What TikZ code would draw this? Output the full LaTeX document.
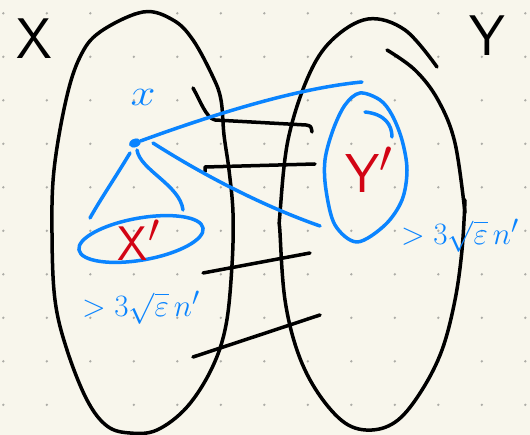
\documentclass[tikz,border=0pt]{standalone}
\usetikzlibrary{shapes.geometric}
\definecolor{paper}{RGB}{248,246,236}
\definecolor{inkblue}{RGB}{10,132,255}
\definecolor{inkred}{RGB}{210,4,20}
\definecolor{dotgray}{RGB}{172,172,166}
\begin{document}
\begin{tikzpicture}[x=1pt,y=-1pt, line cap=round, line join=round,
  ink/.style={line width=3.5pt, black},
  blueink/.style={line width=3.5pt, inkblue},
  biglab/.style={inner sep=0pt, font=\Huge\sffamily},
  redlab/.style={inner sep=0pt, text=inkred, font=\Huge\sffamily},
  bluelab/.style={inner sep=0pt, text=inkblue, font=\Huge},
  sizelab/.style={inner sep=0pt, text=inkblue, font=\Huge}]
\fill[paper] (0,0) rectangle (530,435);
\useasboundingbox (0,0) rectangle (530,435);
\foreach \i in {0,...,12} \foreach \j in {0,...,9}
  \fill[dotgray] (3.3+43.5*\i, 13.3+43.5*\j) circle (1.3pt);
% set X
\draw[ink] plot[smooth cycle, tension=0.6] coordinates {(143,12) (173,20) (193,40) (213,77) (221,100) (224,135) (229,170) (233,213) (232,265) (226,325) (212,368) (187,407) (157,430) (130,433) (107,426) (87,400) (67,350) (55,300) (52,233) (54,170) (66,100) (80,57) (100,32)};
% set Y
\draw[ink] plot[smooth, tension=0.6] coordinates {(437,67) (405,30) (368,19) (332,40) (308,77) (288,140) (280,213) (280,233) (285,300) (298,353) (318,393) (345,423) (372,430) (398,420) (422,390) (442,350) (455,300) (462,250) (465,200)};
\draw[ink] plot[smooth, tension=0.6] coordinates {(387,50) (415,70) (438,100) (455,143) (465,213)};
% labels
\node[biglab] (Xlab) at (34,39) {\scalebox{2.3}{X}};
\node[biglab] (Ylab) at (487,36) {\scalebox{2.3}{Y}};
% matching lines
\coordinate (m1a) at (193,88); \coordinate (m1b) at (312,132);
\coordinate (m2a) at (205,172); \coordinate (m2b) at (315,164);
\coordinate (m3a) at (203,273); \coordinate (m3b) at (310,253);
\coordinate (m4a) at (193,357); \coordinate (m4b) at (320,315);
\draw[ink] (m1a) .. controls (200,100) and (206,118) .. (215,120) -- (306,125) .. controls (311,126) .. (m1b);
\draw[ink] (m2a) -- (205,167) -- (m2b);
\draw[ink] (m3a) -- (m3b);
\draw[ink] (m4a) -- (m4b);
% point x
\node[bluelab] (xlab) at (143,97) {\scalebox{1.8}[1.5]{$x$}};
\node[draw=inkblue, fill=inkblue, ellipse, minimum width=12pt, minimum height=8pt, inner sep=0pt, rotate=20] (xdot) at (135,143) {};
\coordinate (e1) at (362,82);
\coordinate (s2) at (153,143); \coordinate (e2) at (320,226);
\coordinate (s3) at (130,153); \coordinate (e3) at (90,218);
\coordinate (s4) at (137,150); \coordinate (e4) at (183,210);
\draw[blueink] (xdot.east) .. controls (220,112) and (300,88) .. (e1);
\draw[blueink] (s2) .. controls (200,173) and (260,205) .. (e2);
\draw[blueink] (s3) .. controls (115,178) and (100,200) .. (e3);
\draw[blueink] (s4) .. controls (140,170) and (180,185) .. (e4);
% X'
\node[draw=inkblue, line width=3.5pt, ellipse, minimum width=126pt, minimum height=42pt, inner sep=0pt, rotate=10] (Xp) at (141,239) {};
\node[redlab] (Xplab) at (139,240) {\scalebox{1.95}{X$'$}};
% Y'
\draw[blueink] plot[smooth cycle, tension=0.55] coordinates {(360,93) (380,100) (392,115) (402,140) (407,170) (402,200) (385,225) (357,242) (335,225) (326,190) (325,160) (333,130) (345,105)};
\draw[blueink] (365,112) .. controls (385,114) and (392,125) .. (392,137);
\node[redlab] (Yplab) at (369,170) {\scalebox{2.2}{Y$'$}};
% sizes
\node[sizelab] (szX) at (141,308) {\scalebox{1.25}{$>3\sqrt{\varepsilon}\,n'$}};
\node[sizelab] (szY) at (460,236) {\scalebox{1.25}{$>3\sqrt{\varepsilon}\,n'$}};
\end{tikzpicture}
\end{document}
